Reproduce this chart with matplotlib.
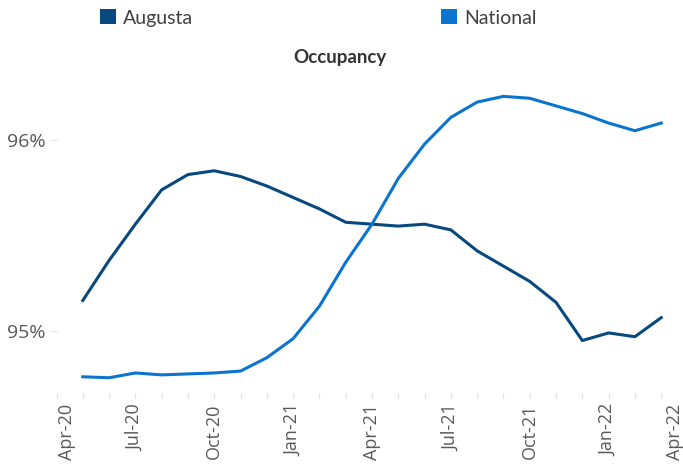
import matplotlib
matplotlib.use("Agg")
import matplotlib.pyplot as plt
import matplotlib.transforms as mtransforms
from matplotlib.patches import Patch
from matplotlib.ticker import FixedLocator, FuncFormatter

# month index 0 = Apr-20; data runs May-20 .. Mar-22
months = list(range(1, 24))
augusta = [95.16, 95.37, 95.56, 95.74, 95.82, 95.84, 95.81, 95.76, 95.70, 95.64,
           95.57, 95.56, 95.55, 95.56, 95.53, 95.42, 95.34, 95.26, 95.15, 94.95,
           94.99, 94.97, 95.07]
national = [94.76, 94.755, 94.78, 94.77, 94.775, 94.78, 94.79, 94.86, 94.96, 95.13,
            95.36, 95.56, 95.80, 95.98, 96.12, 96.20, 96.23, 96.22, 96.18, 96.14,
            96.09, 96.05, 96.09]
tick_pos = [0, 3, 6, 9, 12, 15, 18, 21, 24]
tick_labels = ["Apr-20", "Jul-20", "Oct-20", "Jan-21", "Apr-21",
               "Jul-21", "Oct-21", "Jan-22", "Apr-22"]
y_ticks = [95, 96]

c_aug = "#07487F"
c_nat = "#0A74CF"
grey = "#595959"

fig = plt.figure(figsize=(6.83, 4.65), dpi=100)
# axes runs past the right edge so the Apr-22 tick sits just outside, as in the source
ax = fig.add_axes([56.5 / 683, 72 / 465, 631 / 683, 318 / 465])

ax.plot(months, augusta, color=c_aug, lw=2.2, solid_joinstyle="round")
ax.plot(months, national, color=c_nat, lw=2.2, solid_joinstyle="round")

ax.set_xlim(0, 24)
ax.set_ylim(94.675, 96.342)
for s in ax.spines.values():
    s.set_visible(False)

ax.xaxis.set_major_locator(FixedLocator(tick_pos))
ax.xaxis.set_minor_locator(FixedLocator(range(0, 25)))
ax.set_xticklabels(tick_labels, rotation=90, family="Open Sans", fontsize=13, color=grey)
ax.tick_params(axis="x", which="both", length=4, width=0.8, color="#e3e3e3", pad=4)

ax.set_yticks(y_ticks)
ax.yaxis.set_major_formatter(FuncFormatter(lambda v, p: f"{v:.0f}%"))
for lab in ax.get_yticklabels():
    lab.set_family("Open Sans")
ax.tick_params(axis="y", length=5, width=0.8, color="#e3e3e3", pad=3,
               labelsize=14, labelcolor=grey)

# edge labels are pulled inward like in the original
labs = ax.get_xticklabels()
labs[0].set_transform(labs[0].get_transform() +
                      mtransforms.ScaledTranslation(10 / 100, 0, fig.dpi_scale_trans))
labs[-1].set_transform(labs[-1].get_transform() +
                       mtransforms.ScaledTranslation(-13 / 100, 0, fig.dpi_scale_trans))

fig.text(340 / 683, 1 - 57 / 465, "Occupancy", ha="center", va="center",
         family="Lato", fontweight="bold", fontsize=13.5, color="#333333")

for name, col, x in [("Augusta", c_aug, 100), ("National", c_nat, 441)]:
    fig.legend(handles=[Patch(facecolor=col, edgecolor="none", label=name)],
               loc="center left", bbox_to_anchor=(x / 683, 1 - 18 / 465),
               frameon=False, borderpad=0, borderaxespad=0,
               handlelength=0.8, handleheight=0.8, handletextpad=0.4,
               prop={"family": "Lato", "size": 14}, labelcolor="#404040")

fig.savefig("out.png", dpi=100)
